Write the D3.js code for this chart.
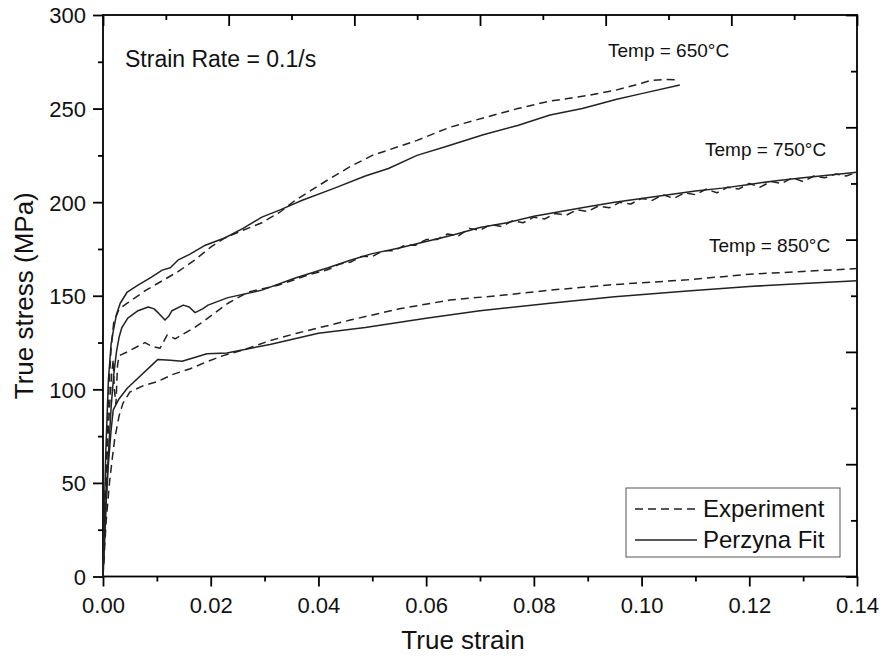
<!DOCTYPE html>
<html>
<head>
<meta charset="utf-8">
<script src="https://cdn.jsdelivr.net/npm/d3@7"></script>
<style>
  body { margin: 0; background: #fff; }
  svg { display: block; font-family: "Liberation Sans", Arial, sans-serif; }
  .curve { fill: none; stroke: #222; stroke-width: 1.5; stroke-linejoin: round; }
  .dashed { stroke-dasharray: 8,5; }
  .axis line { stroke: #000; stroke-width: 1.8; }
  .axis path { display: none; }
  .axis text { font-size: 22px; fill: #111; }
</style>
</head>
<body>
<svg id="chart" width="885" height="665"></svg>
<script>
// tick values
const xMajor = [0, 0.02, 0.04, 0.06, 0.08, 0.10, 0.12, 0.14];
const xMinor = [0.01, 0.03, 0.05, 0.07, 0.09, 0.11, 0.13];
const yMajor = [0, 50, 100, 150, 200, 250, 300];
const yMinor = [25, 75, 125, 175, 225, 275];
const topTicks = [0, 1, 2, 3, 4, 5, 6, 7, 8, 9, 10, 11, 12];
const rightTicks = [0, 1, 2, 3, 4, 5, 6, 7, 8, 9, 10];

// series: [true strain, true stress (MPa)]
const exp650 = [[0,0],[0.0005,50],[0.001,95],[0.0015,122],[0.002,136],[0.003,143],[0.0045,146],[0.006,149],
  [0.008,153],[0.011,158],[0.014,163],[0.017,169],[0.02,176],[0.0227,181],[0.026,185],[0.0295,189],[0.033,195],
  [0.0357,201],[0.0418,212],[0.0459,219],[0.05,225],[0.0583,233],[0.0644,240],[0.0706,245],[0.077,250],
  [0.083,254],[0.09,257],[0.0954,260],[0.1,263.5],[0.1016,265],[0.104,265.5],[0.107,265.4]];
const fit650 = [[0,0],[0.0005,65],[0.001,105],[0.0015,124],[0.0019,131],[0.0025,140],[0.0032,146],[0.0045,152],
  [0.0065,155.7],[0.009,160],[0.011,163.7],[0.0125,165],[0.0139,169],[0.016,172],[0.019,177],[0.0227,181],
  [0.026,186],[0.0295,192],[0.033,196],[0.037,201],[0.043,207.5],[0.0487,214],[0.053,218],[0.0583,225],
  [0.064,230],[0.0706,236],[0.077,241],[0.083,246.6],[0.089,250],[0.0954,255],[0.1,258],[0.1071,262.6]];
const exp750 = [[0,0],[0.0006,55],[0.0012,90],[0.0016,108],[0.0019,116],[0.0021,100],[0.0024,92],[0.0027,113],
  [0.003,118],[0.0045,120],[0.0065,123],[0.0078,125],[0.009,123],[0.0106,122],[0.0119,129],[0.0134,127],
  [0.0152,130],[0.017,133],[0.019,137],[0.0232,146],[0.027,152],[0.0325,155.6],[0.038,161],[0.0418,164],
  [0.044,167],[0.046,168],[0.048,171],[0.050,171],[0.052,174],[0.054,174],[0.056,177],[0.058,177],
  [0.060,180],[0.062,180],[0.064,183],[0.066,182],[0.068,186],[0.070,185],[0.072,188],[0.074,187],
  [0.076,190],[0.078,189],[0.080,192],[0.082,191],[0.084,194],[0.086,193],[0.088,196],[0.090,195],
  [0.092,198],[0.094,197],[0.096,200],[0.098,199],[0.100,202],[0.102,201],[0.104,204],[0.106,202],
  [0.108,205],[0.110,204],[0.112,207],[0.114,205],[0.116,208],[0.118,207],[0.120,210],[0.122,208],
  [0.124,211],[0.126,210],[0.128,213],[0.130,211],[0.132,214],[0.134,213],[0.136,215],[0.138,214],[0.140,216]];
const fit750 = [[0,0],[0.0008,55],[0.0015,90],[0.002,108],[0.0025,120],[0.003,128],[0.0035,133],[0.0046,138],
  [0.0065,142],[0.0084,144],[0.0095,143],[0.0102,141],[0.0115,137],[0.0122,139],[0.0128,142],[0.0149,145],
  [0.016,144],[0.0171,141],[0.0185,143],[0.0195,145],[0.0232,149],[0.0295,153],[0.0357,159.5],[0.0418,165],
  [0.0459,169],[0.05,172.5],[0.055,175.5],[0.06,179],[0.065,182.5],[0.07,186.5],[0.075,189],[0.08,192.5],
  [0.085,195],[0.09,197.5],[0.095,200],[0.1,202],[0.105,204],[0.11,206],[0.115,207.5],[0.12,209.5],
  [0.125,211.5],[0.13,213],[0.135,214.5],[0.14,216]];
const exp850 = [[0,0],[0.0006,30],[0.0012,50],[0.0018,65],[0.0022,74],[0.003,86],[0.0037,92.5],[0.005,98.6],
  [0.0075,102],[0.01,104],[0.013,108],[0.0162,111],[0.0195,115],[0.0223,118],[0.026,121],[0.031,126],
  [0.036,130],[0.0459,137],[0.055,143],[0.0644,147.7],[0.075,150.5],[0.083,153],[0.095,156],[0.1085,158.5],
  [0.12,161.5],[0.13,163],[0.14,164.5]];
const fit850 = [[0,0],[0.0005,35],[0.001,60],[0.0015,78],[0.0019,89],[0.003,95],[0.0045,100.6],[0.0102,116],
  [0.0125,115.5],[0.0147,115],[0.0193,119],[0.023,119.4],[0.031,124],[0.04,130],[0.0487,133],[0.06,138],
  [0.07,142],[0.083,146],[0.095,149.5],[0.1085,152.5],[0.12,155],[0.13,156.5],[0.14,158]];

const svg = d3.select("#chart");
const plotLeft = 103, plotRight = 857, plotTop = 15, plotBottom = 576.5;

const x = d3.scaleLinear().domain([0, 0.14]).range([plotLeft, plotRight]);
const y = d3.scaleLinear().domain([0, 300]).range([plotBottom, plotTop]);
const xTop = d3.scaleLinear().domain([0, 12]).range([plotLeft, plotRight]);
const yRight = d3.scaleLinear().domain([0, 10]).range([plotBottom, plotTop]);

// bottom axis, ticks outward
svg.append("g").attr("class", "axis").attr("transform", "translate(0," + plotBottom + ")")
  .call(d3.axisBottom(x).tickValues(xMajor).tickSize(10).tickPadding(6).tickFormat(d3.format(".2f")))
  .selectAll("text").attr("dy", "0.95em");
svg.append("g").attr("class", "axis").attr("transform", "translate(0," + plotBottom + ")")
  .call(d3.axisBottom(x).tickValues(xMinor).tickSize(5).tickFormat(""));

// left axis, ticks outward
svg.append("g").attr("class", "axis").attr("transform", "translate(" + plotLeft + ",0)")
  .call(d3.axisLeft(y).tickValues(yMajor).tickSize(10).tickPadding(7))
  .selectAll("text").attr("dy", "0.36em");
svg.append("g").attr("class", "axis").attr("transform", "translate(" + plotLeft + ",0)")
  .call(d3.axisLeft(y).tickValues(yMinor).tickSize(5).tickFormat(""));

// top axis, ticks inward
svg.append("g").attr("class", "axis").attr("transform", "translate(0," + plotTop + ")")
  .call(d3.axisBottom(xTop).tickValues(topTicks).tickSizeInner(0).tickSizeOuter(0).tickFormat(""))
  .selectAll(".tick line").attr("y2", d => d % 2 === 0 ? 11 : 5);

// right axis, ticks inward
svg.append("g").attr("class", "axis").attr("transform", "translate(" + plotRight + ",0)")
  .call(d3.axisLeft(yRight).tickValues(rightTicks).tickSizeInner(0).tickSizeOuter(0).tickFormat(""))
  .selectAll(".tick line").attr("x2", d => d % 2 === 0 ? -11 : -6);

// frame
svg.append("rect")
  .attr("x", plotLeft).attr("y", plotTop)
  .attr("width", plotRight - plotLeft).attr("height", plotBottom - plotTop)
  .attr("fill", "none").attr("stroke", "#000").attr("stroke-width", 1.8);

const line = d3.line().x(d => x(d[0])).y(d => y(d[1]));

const series = [
  { data: exp650, dashed: true }, { data: fit650, dashed: false },
  { data: exp750, dashed: true }, { data: fit750, dashed: false },
  { data: exp850, dashed: true }, { data: fit850, dashed: false }
];
svg.append("g").selectAll("path")
  .data(series)
  .enter().append("path")
    .attr("class", d => d.dashed ? "curve dashed" : "curve")
    .attr("d", d => line(d.data));

// axis titles
svg.append("text")
  .attr("x", 463).attr("y", 649)
  .attr("text-anchor", "middle")
  .style("font-size", "26px").attr("fill", "#111")
  .text("True strain");

svg.append("text")
  .attr("transform", "translate(33," + ((plotTop + plotBottom) / 2) + ") rotate(-90)")
  .attr("text-anchor", "middle")
  .style("font-size", "26px").attr("fill", "#111")
  .text("True stress (MPa)");

// annotations
svg.append("text").attr("x", 125).attr("y", 67)
  .style("font-size", "23px").attr("fill", "#111")
  .text("Strain Rate = 0.1/s");

const notes = [
  { t: "Temp = 650°C", x: 608, y: 57 },
  { t: "Temp = 750°C", x: 705, y: 156 },
  { t: "Temp = 850°C", x: 709, y: 252 }
];
svg.append("g").selectAll("text")
  .data(notes)
  .enter().append("text")
    .attr("x", d => d.x).attr("y", d => d.y)
    .style("font-size", "19px").attr("fill", "#111")
    .text(d => d.t);

// legend
const legend = svg.append("g");
legend.append("rect")
  .attr("x", 626).attr("y", 488).attr("width", 214).attr("height", 69)
  .attr("fill", "#fff").attr("stroke", "#555").attr("stroke-width", 1);

const legendItems = [
  { label: "Experiment", dashed: true, y: 509 },
  { label: "Perzyna Fit", dashed: false, y: 540 }
];
const li = legend.selectAll("g.item")
  .data(legendItems)
  .enter().append("g").attr("class", "item");
li.append("line")
  .attr("class", d => d.dashed ? "curve dashed" : "curve")
  .attr("x1", 635).attr("x2", 697)
  .attr("y1", d => d.y).attr("y2", d => d.y);
li.append("text")
  .attr("x", 703).attr("y", d => d.y + 8)
  .style("font-size", "24px").attr("fill", "#111")
  .text(d => d.label);
</script>
</body>
</html>
